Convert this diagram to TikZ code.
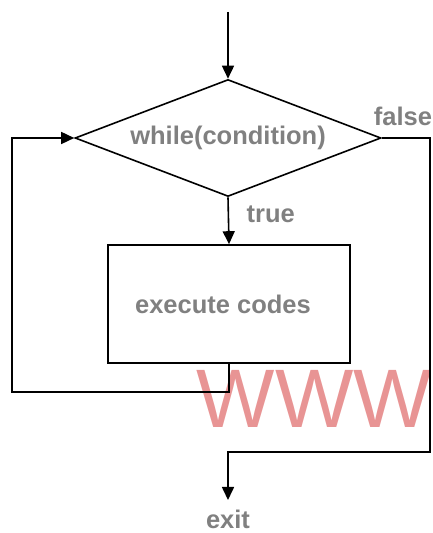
\documentclass[tikz,border=0pt]{standalone}
\usepackage{fontspec}
\setmainfont{Liberation Sans}
\usepackage{xcolor}
\usepackage{tikz}
\usetikzlibrary{shapes.geometric,arrows.meta,positioning,calc}
\definecolor{labelgray}{RGB}{128,128,128}
\definecolor{markred}{RGB}{232,148,148}

\begin{document}
\begin{tikzpicture}[x=1pt,y=1pt,line width=1.6pt,
  flow/.style={-{Triangle[length=13pt,width=12pt]}},
  lbl/.style={font=\fontsize{25.5}{31}\selectfont\bfseries, text=labelgray}]
\useasboundingbox (0,0) rectangle (433,533);
% watermark
\node[anchor=base west, inner sep=0, font=\fontsize{83}{90}\selectfont, text=markred] (mark) at (196,105) {WWW};

% loop test
\coordinate (start) at (228,521);
\node[draw, diamond, shape aspect=2.6, minimum width=306pt, minimum height=117pt, inner sep=0, lbl] (cond) at (228,395) {while(condition)};
\draw[flow] (start) -- (cond.north);

% loop body
\node[draw, minimum width=242pt, minimum height=118pt, lbl] (body) at (229,229) {\hspace*{-12pt}execute codes};
\draw[flow] (cond.south) -- node[lbl, anchor=west, xshift=14pt, yshift=6pt] {true} (body.north);

% back to the test
\coordinate (loopcorner) at (12,141);
\draw[flow] (body.south) |- (loopcorner) |- (cond.west);

% leaving the loop
\node[lbl, anchor=north, inner sep=9pt] (exit) at (228,33) {exit};
\coordinate (exitcorner) at (430,81);
\draw[flow] (cond.east) -| node[lbl, above, pos=0.25, xshift=-3pt, yshift=8pt] {false} (exitcorner) -| (exit.north);
\end{tikzpicture}
\end{document}
